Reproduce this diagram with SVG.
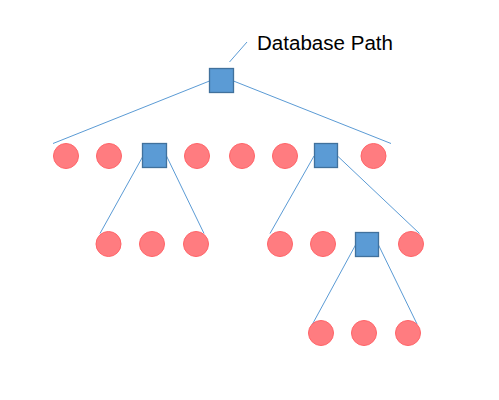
<svg xmlns="http://www.w3.org/2000/svg" width="499" height="400" viewBox="0 0 499 400">
<style>
.c{fill:#FF7C80;stroke:#FF6468;stroke-width:1}
.s{fill:#5B9BD5;stroke:#41719C;stroke-width:1.3}
.l{stroke:#5B9BD5;stroke-width:1;fill:none}
.t{font-family:"Liberation Sans",Arial,sans-serif;font-size:20px;fill:#000}
</style>
<rect width="499" height="400" fill="#fff"/>
<g id="connectors">
<line class="l" x1="209.5" y1="81" x2="53" y2="143.5"/>
<line class="l" x1="233.5" y1="81" x2="391" y2="143.5"/>
<line class="l" x1="229.5" y1="62" x2="247" y2="42"/>
<line class="l" x1="142.5" y1="157" x2="100" y2="233.5"/>
<line class="l" x1="166.5" y1="156" x2="204" y2="233.5"/>
<line class="l" x1="314" y1="156" x2="270" y2="233.5"/>
<line class="l" x1="337.5" y1="156" x2="419.5" y2="233.5"/>
<line class="l" x1="355.5" y1="245" x2="312" y2="325"/>
<line class="l" x1="378.5" y1="245" x2="417" y2="324"/>
</g>
<g id="root"><rect class="s" x="209.5" y="68.5" width="24" height="24"/></g>
<g id="label"><text class="t" x="257" y="50" textLength="136" lengthAdjust="spacingAndGlyphs">Database Path</text></g>
<g id="r1c1"><circle class="c" cx="66" cy="156" r="12.5"/></g>
<g id="r1c2"><circle class="c" cx="109" cy="156" r="12.5"/></g>
<g id="r1s1"><rect class="s" x="142.5" y="143.5" width="24" height="24"/></g>
<g id="r1c3"><circle class="c" cx="197" cy="156" r="12.5"/></g>
<g id="r1c4"><circle class="c" cx="242" cy="156" r="12.5"/></g>
<g id="r1c5"><circle class="c" cx="285" cy="156" r="12.5"/></g>
<g id="r1s2"><rect class="s" x="314.5" y="143.5" width="23" height="24"/></g>
<g id="r1c6"><circle class="c" cx="373.5" cy="156" r="12.5"/></g>
<g id="r2c1"><circle class="c" cx="108.5" cy="244" r="12.5"/></g>
<g id="r2c2"><circle class="c" cx="152" cy="244" r="12.5"/></g>
<g id="r2c3"><circle class="c" cx="196" cy="244" r="12.5"/></g>
<g id="r2c4"><circle class="c" cx="280" cy="244" r="12.5"/></g>
<g id="r2c5"><circle class="c" cx="323" cy="244" r="12.5"/></g>
<g id="r2s1"><rect class="s" x="355.5" y="232.5" width="23" height="24"/></g>
<g id="r2c6"><circle class="c" cx="411" cy="244" r="12.5"/></g>
<g id="r3c1"><circle class="c" cx="321" cy="333" r="12.5"/></g>
<g id="r3c2"><circle class="c" cx="364" cy="333" r="12.5"/></g>
<g id="r3c3"><circle class="c" cx="408" cy="333" r="12.5"/></g>
</svg>
